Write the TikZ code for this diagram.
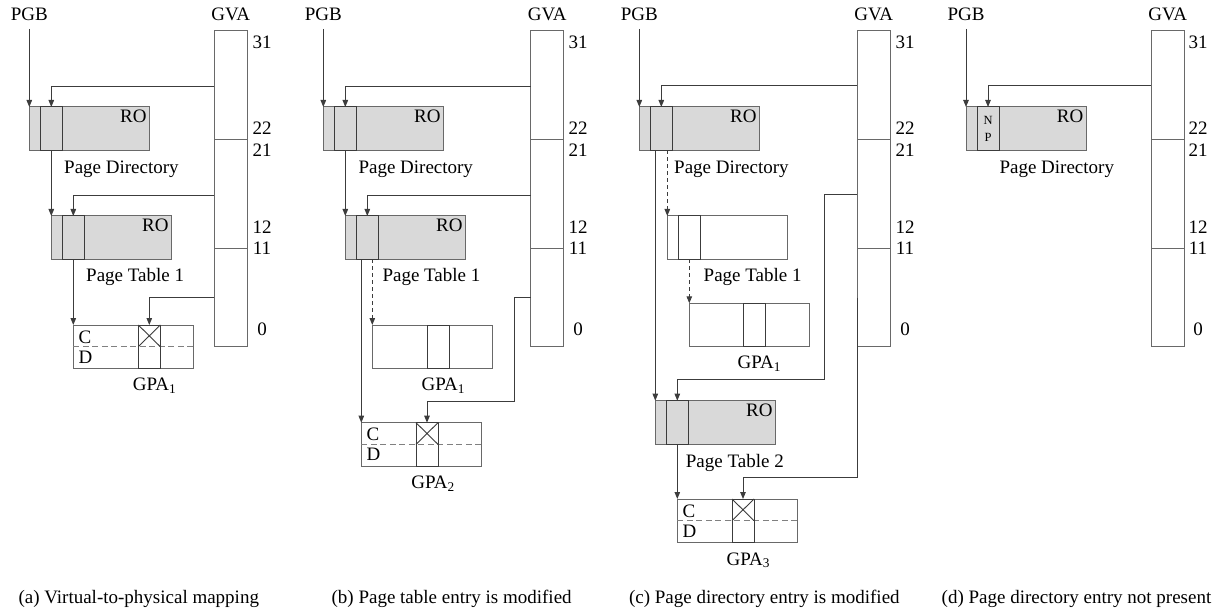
\documentclass[tikz,border=0pt]{standalone}
\usepackage{fontspec}
\setmainfont{Liberation Serif}
\usetikzlibrary{arrows.meta}
\newcommand\figfont{\fontsize{19}{22}\selectfont}
\newcommand\npfont{\fontsize{12.5}{17}\selectfont}
\definecolor{boxc}{RGB}{105,105,105}
\definecolor{linec}{RGB}{60,60,60}
\definecolor{grayfill}{RGB}{217,217,217}
\definecolor{dashc}{RGB}{128,128,128}
\tikzset{
  tbl/.style={draw=boxc, line width=1pt, minimum width=120pt, minimum height=43.3pt, inner sep=0pt, outer sep=0pt, anchor=north west},
  gtbl/.style={tbl, fill=grayfill},
  wtbl/.style={tbl, fill=white},
  ent/.style={draw=linec, line width=1pt, minimum width=22pt, minimum height=43.3pt, inner sep=0pt, outer sep=0pt, anchor=north west},
  gvabox/.style={draw=boxc, line width=1pt, fill=white, minimum width=33pt, minimum height=315.7pt, inner sep=0pt, outer sep=0pt, anchor=north west},
  arr/.style={draw=linec, line width=0.95pt, -{Triangle[length=7pt,width=5.5pt]}},
  darr/.style={arr, dash pattern=on 4pt off 3pt},
  dline/.style={draw=dashc, line width=1pt, dash pattern=on 6pt off 3.5pt},
  divline/.style={draw=boxc, line width=1pt},
  xline/.style={draw=linec, line width=0.9pt},
  lbl/.style={font=\figfont, inner sep=0pt, anchor=base west},
  ctr/.style={font=\figfont, inner sep=0pt, anchor=base},
  rolbl/.style={font=\figfont, inner sep=0pt, anchor=base east},
}
\begin{document}
\begin{tikzpicture}[x=1pt, y=-1pt]
\useasboundingbox (0,0) rectangle (1223,612);

% ================= Panel (a) =================
\node[gtbl] (aPD) at (29.3,107) {};
\node[ent] (aPDe) at (40.3,107) {};
\node[gtbl] (aPT) at (51.3,216) {};
\node[ent] (aPTe) at (62.3,216) {};
\node[wtbl] (aGPA) at (73.3,325) {};
\draw[dline] (aGPA.west) -- (aGPA.east);
\node[ent] (aGPAe) at (138.3,325) {};
\draw[xline] (aGPAe.north west) -- (aGPAe.east) (aGPAe.north east) -- (aGPAe.west);
\node[gvabox] (aGVA) at (214.3,31) {};
\draw[divline] ([yshift=-109pt]aGVA.north west) -- ([yshift=-109pt]aGVA.north east);
\draw[divline] ([yshift=-218pt]aGVA.north west) -- ([yshift=-218pt]aGVA.north east);

\node[ctr] (aPGB) at (29.3,20.8) {PGB};
\node[ctr] (aGVAl) at (230.8,20.8) {GVA};
\node[ctr] (an31) at (262,48.3) {31};
\node[ctr] (an22) at (262,135) {22};
\node[ctr] (an21) at (262,156.7) {21};
\node[ctr] (an12) at (262,234) {12};
\node[ctr] (an11) at (262,255) {11};
\node[ctr] (an0) at (262,335.7) {0};
\node[rolbl] (aRO1) at ([xshift=-2.5pt,yshift=-15.7pt]aPD.north east) {RO};
\node[rolbl] (aRO2) at ([xshift=-2.5pt,yshift=-15.7pt]aPT.north east) {RO};
\node[lbl] (aC) at ([xshift=5pt,yshift=-18pt]aGPA.north west) {C};
\node[lbl] (aD) at ([xshift=5pt,yshift=-38pt]aGPA.north west) {D};
\node[lbl] (aPDl) at (64,173.3) {Page Directory};
\node[lbl] (aPTl) at (86,281.7) {Page Table 1};
\node[ctr] (aGPAl) at (154.5,390.6) {GPA\textsubscript{1}};

\coordinate (aP) at (29.3,29);
\coordinate (aG1) at (214.3,86);
\coordinate (aG2) at (214.3,195.3);
\coordinate (aG3) at (214.3,297.7);
\draw[arr] (aP) -- (aPD.north west);
\draw[arr] (aG1) -| (aPDe.north);
\draw[arr] (aPDe.south) -- (aPT.north west);
\draw[arr] (aG2) -| (aPTe.north);
\draw[arr] (aPTe.south) -- (aGPA.north west);
\draw[arr] (aG3) -| (aGPAe.north);

% ================= Panel (b) =================
\node[gtbl] (bPD) at (323.3,107) {};
\node[ent] (bPDe) at (334.3,107) {};
\node[gtbl] (bPT) at (345.3,216) {};
\node[ent] (bPTe) at (356.3,216) {};
\node[wtbl] (bGPA1) at (372.3,325) {};
\node[ent] (bGPA1e) at (427,325) {};
\node[wtbl] (bGPA2) at (361.3,422.7) {};
\draw[dline] (bGPA2.west) -- (bGPA2.east);
\node[ent] (bGPA2e) at (416,422.7) {};
\draw[xline] (bGPA2e.north west) -- (bGPA2e.east) (bGPA2e.north east) -- (bGPA2e.west);
\node[gvabox] (bGVA) at (530.7,31) {};
\draw[divline] ([yshift=-109pt]bGVA.north west) -- ([yshift=-109pt]bGVA.north east);
\draw[divline] ([yshift=-218pt]bGVA.north west) -- ([yshift=-218pt]bGVA.north east);

\node[ctr] (bPGB) at (323.3,20.8) {PGB};
\node[ctr] (bGVAl) at (547.2,20.8) {GVA};
\node[ctr] (bn31) at (578,48.3) {31};
\node[ctr] (bn22) at (578,135) {22};
\node[ctr] (bn21) at (578,156.7) {21};
\node[ctr] (bn12) at (578,234) {12};
\node[ctr] (bn11) at (578,255) {11};
\node[ctr] (bn0) at (578,335.7) {0};
\node[rolbl] (bRO1) at ([xshift=-2.5pt,yshift=-15.7pt]bPD.north east) {RO};
\node[rolbl] (bRO2) at ([xshift=-2.5pt,yshift=-15.7pt]bPT.north east) {RO};
\node[lbl] (bC) at ([xshift=5pt,yshift=-18pt]bGPA2.north west) {C};
\node[lbl] (bD) at ([xshift=5pt,yshift=-38pt]bGPA2.north west) {D};
\node[lbl] (bPDl) at (358.3,173.3) {Page Directory};
\node[lbl] (bPTl) at (382.3,281.7) {Page Table 1};
\node[ctr] (bGPA1l) at (443.3,390.6) {GPA\textsubscript{1}};
\node[ctr] (bGPA2l) at (433,488.3) {GPA\textsubscript{2}};

\coordinate (bP) at (323.3,29);
\coordinate (bG1) at (530.7,86);
\coordinate (bG2) at (530.7,195.3);
\coordinate (bG3) at (530.7,297.7);
\coordinate (bK) at (514.3,401.7);
\draw[arr] (bP) -- (bPD.north west);
\draw[arr] (bG1) -| (bPDe.north);
\draw[arr] (bPDe.south) -- (bPT.north west);
\draw[arr] (bG2) -| (bPTe.north);
\draw[arr] ([xshift=-6pt]bPTe.south) -- (bGPA2.north west);
\draw[darr] ([xshift=5pt]bPTe.south) -- (bGPA1.north west);
\draw[arr] (bG3) -| (bK) -| (bGPA2e.north);

% ================= Panel (c) =================
\node[gtbl] (cPD) at (639.3,107) {};
\node[ent] (cPDe) at (650.3,107) {};
\node[wtbl] (cPT1) at (667.3,216) {};
\node[ent] (cPT1e) at (678.3,216) {};
\node[wtbl] (cGPA1) at (689.3,303.3) {};
\node[ent] (cGPA1e) at (743.8,303.3) {};
\node[gtbl] (cPT2) at (655.3,400.7) {};
\node[ent] (cPT2e) at (666.3,400.7) {};
\node[wtbl] (cGPA3) at (677.3,499) {};
\draw[dline] (cGPA3.west) -- (cGPA3.east);
\node[ent] (cGPA3e) at (732,499) {};
\draw[xline] (cGPA3e.north west) -- (cGPA3e.east) (cGPA3e.north east) -- (cGPA3e.west);
\node[gvabox] (cGVA) at (857.3,31) {};
\draw[divline] ([yshift=-109pt]cGVA.north west) -- ([yshift=-109pt]cGVA.north east);
\draw[divline] ([yshift=-218pt]cGVA.north west) -- ([yshift=-218pt]cGVA.north east);

\node[ctr] (cPGB) at (639.3,20.8) {PGB};
\node[ctr] (cGVAl) at (873.8,20.8) {GVA};
\node[ctr] (cn31) at (905,48.3) {31};
\node[ctr] (cn22) at (905,135) {22};
\node[ctr] (cn21) at (905,156.7) {21};
\node[ctr] (cn12) at (905,234) {12};
\node[ctr] (cn11) at (905,255) {11};
\node[ctr] (cn0) at (905,335.7) {0};
\node[rolbl] (cRO1) at ([xshift=-2.5pt,yshift=-15.7pt]cPD.north east) {RO};
\node[rolbl] (cRO2) at ([xshift=-2.5pt,yshift=-15.7pt]cPT2.north east) {RO};
\node[lbl] (cC) at ([xshift=5pt,yshift=-18pt]cGPA3.north west) {C};
\node[lbl] (cD) at ([xshift=5pt,yshift=-38pt]cGPA3.north west) {D};
\node[lbl] (cPDl) at (674,173.3) {Page Directory};
\node[lbl] (cPT1l) at (703.5,281.7) {Page Table 1};
\node[ctr] (cGPA1l) at (759.3,368.9) {GPA\textsubscript{1}};
\node[lbl] (cPT2l) at (685.7,467.1) {Page Table 2};
\node[ctr] (cGPA3l) at (748.3,565) {GPA\textsubscript{3}};

\coordinate (cP) at (639.3,29);
\coordinate (cG1) at (857.3,85.7);
\coordinate (cG2) at (857.3,194.3);
\coordinate (cK1) at (824.3,379);
\coordinate (cG3) at (857.3,297.7);
\coordinate (cK2) at (857.3,477.3);
\draw[arr] (cP) -- (cPD.north west);
\draw[arr] (cG1) -| (cPDe.north);
\draw[arr] ([xshift=-6pt]cPDe.south) -- (cPT2.north west);
\draw[darr] ([xshift=6pt]cPDe.south) -- (cPT1.north west);
\draw[darr] (cPT1e.south) -- (cGPA1.north west);
\draw[arr] (cG2) -| (cK1) -| (cPT2e.north);
\draw[arr] (cPT2e.south) -- (cGPA3.north west);
\draw[arr] (cG3) -- (cK2) -| (cGPA3e.north);

% ================= Panel (d) =================
\node[gtbl] (dPD) at (966,107) {};
\node[ent, font=\npfont, align=center] (dPDe) at (977,107) {N\\P};
\node[gvabox] (dGVA) at (1151.3,31) {};
\draw[divline] ([yshift=-109pt]dGVA.north west) -- ([yshift=-109pt]dGVA.north east);
\draw[divline] ([yshift=-218pt]dGVA.north west) -- ([yshift=-218pt]dGVA.north east);

\node[ctr] (dPGB) at (966,20.8) {PGB};
\node[ctr] (dGVAl) at (1167.8,20.8) {GVA};
\node[ctr] (dn31) at (1198,48.3) {31};
\node[ctr] (dn22) at (1198,135) {22};
\node[ctr] (dn21) at (1198,156.7) {21};
\node[ctr] (dn12) at (1198,234) {12};
\node[ctr] (dn11) at (1198,255) {11};
\node[ctr] (dn0) at (1198,335.7) {0};
\node[rolbl] (dRO1) at ([xshift=-2.5pt,yshift=-15.7pt]dPD.north east) {RO};
\node[lbl] (dPDl) at (999.3,173.3) {Page Directory};

\coordinate (dP) at (966,29);
\coordinate (dG1) at (1151.3,85.7);
\draw[arr] (dP) -- (dPD.north west);
\draw[arr] (dG1) -| (dPDe.north);

% ================= Captions =================
\node[lbl] (capa) at (18.3,603.3) {(a) Virtual-to-physical mapping};
\node[lbl] (capb) at (331.4,603.3) {(b) Page table entry is modified};
\node[lbl] (capc) at (628.8,603.3) {(c) Page directory entry is modified};
\node[lbl] (capd) at (941.5,603.3) {(d) Page directory entry not present};
\end{tikzpicture}
\end{document}
